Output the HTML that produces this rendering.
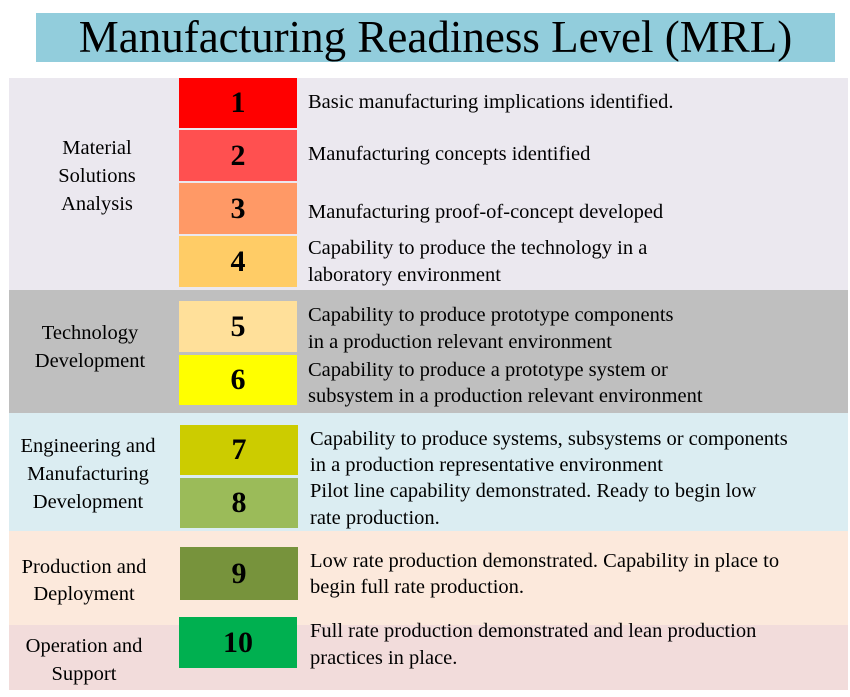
<!DOCTYPE html>
<html><head><meta charset="utf-8"><style>
body{margin:0;width:850px;height:697px;background:#fff;position:relative;overflow:hidden;font-family:"Liberation Serif",serif;color:#000}
div{position:absolute}
.sec{left:9px;width:839px}
.box{left:179px;width:118px;font-weight:bold;font-size:30px;display:flex;align-items:center;justify-content:center}
.t{left:308px;font-size:20.5px;line-height:24px;white-space:nowrap}
.l{font-size:20.5px;line-height:24px;white-space:nowrap;text-align:center;width:180px}
</style></head><body>
<div style="left:36px;top:13px;width:799px;height:49px;background:#92cddc;font-size:45px;line-height:49px;text-align:center">Manufacturing Readiness Level (MRL)</div>

<div class="sec" style="top:78px;height:212px;background:#ebe8ef"></div>
<div class="sec" style="top:290px;height:123px;background:#bfbfbf"></div>
<div class="sec" style="top:413px;height:118px;background:#dbedf2"></div>
<div class="sec" style="top:531px;height:94px;background:#fce9dc"></div>
<div class="sec" style="top:625px;height:65px;background:#f2dcdb"></div>

<div class="box" style="top:78px;height:50px;background:#ff0000">1</div>
<div class="box" style="top:130px;height:51px;background:#ff5050">2</div>
<div class="box" style="top:183px;height:51px;background:#ff9966">3</div>
<div class="box" style="top:236px;height:51px;background:#ffcc66">4</div>
<div class="box" style="top:301px;height:51px;background:#ffe09a">5</div>
<div class="box" style="top:355px;height:50px;background:#ffff00">6</div>
<div class="box" style="top:425px;height:50px;left:180px;background:#cccc00">7</div>
<div class="box" style="top:478px;height:50px;left:180px;background:#9bbb59">8</div>
<div class="box" style="top:547px;height:53px;left:180px;background:#77933c">9</div>
<div class="box" style="top:617px;height:51px;background:#00b050">10</div>

<div class="t" style="top:90px">Basic manufacturing implications identified.</div>
<div class="t" style="top:142px">Manufacturing concepts identified</div>
<div class="t" style="top:200px">Manufacturing proof-of-concept developed</div>
<div class="t" style="top:235px;line-height:27px">Capability to produce the technology in a<br>laboratory environment</div>
<div class="t" style="top:302px;line-height:27px">Capability to produce prototype components<br>in a production relevant environment</div>
<div class="t" style="top:357px;line-height:26px">Capability to produce a prototype system or<br>subsystem in a production relevant environment</div>
<div class="t" style="top:426px;left:310px;line-height:26px">Capability to produce systems, subsystems or components<br>in a production representative environment</div>
<div class="t" style="top:478px;left:310px;line-height:27px">Pilot line capability demonstrated. Ready to begin low<br>rate production.</div>
<div class="t" style="top:548px;left:310px;line-height:26px">Low rate production demonstrated. Capability in place to<br>begin full rate production.</div>
<div class="t" style="top:618px;left:310px;line-height:27px">Full rate production demonstrated and lean production<br>practices in place.</div>

<div class="l" style="left:7px;top:134px;line-height:28px">Material<br>Solutions<br>Analysis</div>
<div class="l" style="left:0px;top:319px;line-height:28px">Technology<br>Development</div>
<div class="l" style="left:-2px;top:432px;line-height:28px">Engineering and<br>Manufacturing<br>Development</div>
<div class="l" style="left:-6px;top:554px;line-height:27px">Production and<br>Deployment</div>
<div class="l" style="left:-6px;top:632px;line-height:28px">Operation and<br>Support</div>
</body></html>
